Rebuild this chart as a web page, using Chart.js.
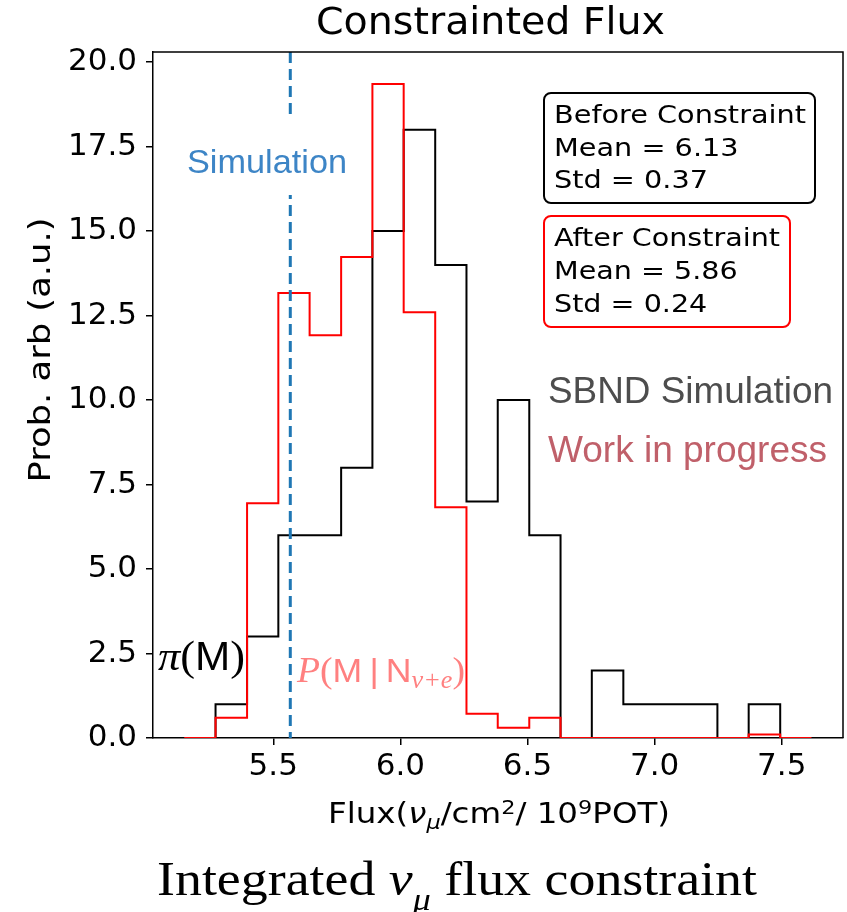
<!DOCTYPE html>
<html>
<head>
<meta charset="UTF-8">
<title>Constrainted Flux</title>
<script src="https://cdn.jsdelivr.net/npm/chart.js@4.4.1/dist/chart.umd.min.js"></script>
<style>
  html, body { margin: 0; padding: 0; background: #fff; }
  #fluxChart { display: block; }
</style>
</head>
<body>
<canvas id="fluxChart" width="847" height="912"></canvas>
<script>
// histogram bin edges, flux in nu_mu / cm2 / 1e9 POT
const binEdges = [5.150, 5.273, 5.397, 5.520, 5.643, 5.767, 5.890, 6.013, 6.137, 6.260,
                  6.383, 6.507, 6.630, 6.753, 6.877, 7.000, 7.123, 7.247, 7.370, 7.494, 7.617];
// prior pi(M), before constraint (black)
const beforeCounts = [0, 1, 3, 6, 6, 8, 15, 18, 14, 7, 10, 6, 0, 2, 1, 1, 1, 0, 1, 0];
// posterior P(M|N), after constraint (red)
const afterCounts = [0, 0.6, 6.95, 13.17, 11.92, 14.23, 19.35, 12.6, 6.83, 0.72, 0.3, 0.6, 0, 0, 0, 0, 0, 0, 0.1, 0];
const simulationFlux = 5.567;
const xTicks = [5.5, 6.0, 6.5, 7.0, 7.5];
const yTicks = [0, 2.5, 5, 7.5, 10, 12.5, 15, 17.5, 20];
const xRange = [5.027, 7.741];
const yRange = [0, 20.3];
const beforeStats = [6.13, 0.37];   // mean, std
const afterStats = [5.86, 0.24];

// outline of a step histogram, the way hist(histtype='step') draws it
function stepPoints(edges, counts) {
  let pts = [{x: edges[0], y: 0}];
  for (let i = 0; i < counts.length; i++) {
    pts.push({x: edges[i], y: counts[i]});
  }
  pts.push({x: edges[edges.length - 1], y: counts[counts.length - 1]});
  pts.push({x: edges[edges.length - 1], y: 0});
  return pts;
}

// text made of pieces (sub/superscripts, mixed fonts); width = wanted width in px
function drawRuns(ctx, x, y, runs, opts) {
  opts = opts || {};
  let w = 0;
  runs.forEach(r => { ctx.font = r.font; r.w = ctx.measureText(r.t).width; w += r.w; });
  let sx = opts.width ? opts.width / w : 1;
  ctx.save();
  ctx.translate(x, y);
  if (opts.rotate) ctx.rotate(opts.rotate);
  ctx.scale(sx, 1);
  let cx = opts.align === 'center' ? -w / 2 : 0;
  ctx.textAlign = 'left';
  ctx.textBaseline = 'alphabetic';
  runs.forEach(r => {
    ctx.font = r.font;
    ctx.fillStyle = r.color || opts.color || '#000';
    ctx.fillText(r.t, cx, r.dy || 0);
    cx += r.w;
  });
  ctx.restore();
}

function statBox(ctx, x, y, w, h, color, lines, baselines, textWidth) {
  ctx.save();
  ctx.fillStyle = '#fff';
  ctx.strokeStyle = color;
  ctx.lineWidth = 2;
  ctx.beginPath();
  ctx.roundRect(x, y, w, h, 7);
  ctx.fill();
  ctx.stroke();
  ctx.restore();
  ctx.font = '25px "DejaVu Sans"';
  let sx = textWidth / ctx.measureText(lines[0]).width;
  lines.forEach((s, i) => {
    ctx.font = '25px "DejaVu Sans"';
    let wi = ctx.measureText(s).width * sx;
    drawRuns(ctx, x + 10, baselines[i], [{t: s, font: '25px "DejaVu Sans"'}], {width: wi});
  });
}

const overlay = {
  id: 'overlay',
  afterDraw(chart) {
    const ctx = chart.ctx;
    const a = chart.chartArea;

    // top and right spines
    ctx.save();
    ctx.strokeStyle = '#000';
    ctx.lineWidth = 1.5;
    ctx.beginPath();
    ctx.moveTo(a.left, a.top);
    ctx.lineTo(a.right, a.top);
    ctx.lineTo(a.right, a.bottom);
    ctx.stroke();
    ctx.restore();

    // title, drawn here so it can sit where the original has it
    drawRuns(ctx, 316, 34, [{t: 'Constrainted Flux', font: '37px "DejaVu Sans"'}], {width: 349, color: '#000'});

    // "Simulation" label sitting on a white box over the dashed line
    ctx.fillStyle = '#fff';
    ctx.fillRect(180, 119, 174, 76);
    drawRuns(ctx, 187, 173, [{t: 'Simulation', font: '34px "Liberation Sans"'}], {width: 160, color: '#3d85c6'});

    statBox(ctx, 544, 93, 271, 110, '#000',
      ['Before Constraint', 'Mean = ' + beforeStats[0].toFixed(2), 'Std = ' + beforeStats[1].toFixed(2)],
      [123, 155.5, 188], 252);
    statBox(ctx, 544, 216, 246, 111, '#ff0000',
      ['After Constraint', 'Mean = ' + afterStats[0].toFixed(2), 'Std = ' + afterStats[1].toFixed(2)],
      [246, 279, 312], 226);

    drawRuns(ctx, 548, 403, [{t: 'SBND Simulation', font: '36px "Liberation Sans"'}], {width: 285, color: '#4d4d4d'});
    drawRuns(ctx, 548, 462, [{t: 'Work in progress', font: '36px "Liberation Sans"'}], {width: 279, color: '#c0606a'});

    // pi(M)
    drawRuns(ctx, 158, 670, [
      {t: 'π', font: 'italic 42px "Liberation Serif"'},
      {t: '(', font: '42px "Liberation Serif"'},
      {t: 'M', font: '40px "Liberation Sans"'},
      {t: ')', font: '42px "Liberation Serif"'}
    ], {width: 87, color: '#000'});

    // P(M|N_{nu+e})
    drawRuns(ctx, 297, 682, [
      {t: 'P', font: 'italic 36px "Liberation Serif"'},
      {t: '(', font: '36px "Liberation Serif"'},
      {t: 'M', font: '34px "Liberation Sans"'},
      {t: '\u2009|\u2009', font: '34px "Liberation Sans"'},
      {t: 'N', font: '34px "Liberation Sans"'},
      {t: 'ν+e', font: 'italic 25px "Liberation Serif"', dy: 6},
      {t: ')', font: '36px "Liberation Serif"'}
    ], {width: 168, color: '#ff8080'});

    // y axis title
    drawRuns(ctx, 50, 350, [{t: 'Prob. arb (a.u.)', font: '31px "DejaVu Sans"'}],
      {align: 'center', rotate: -Math.PI / 2, width: 265, color: '#000'});

    // x axis title
    drawRuns(ctx, 499, 823, [
      {t: 'Flux(', font: '29px "DejaVu Sans"'},
      {t: 'ν', font: 'italic 29px "DejaVu Sans"'},
      {t: 'μ', font: 'italic 20px "DejaVu Sans"', dy: 6},
      {t: '/cm', font: '29px "DejaVu Sans"'},
      {t: '2', font: '20px "DejaVu Sans"', dy: -9},
      {t: '/ 10', font: '29px "DejaVu Sans"'},
      {t: '9', font: '20px "DejaVu Sans"', dy: -9},
      {t: 'POT)', font: '29px "DejaVu Sans"'}
    ], {align: 'center', width: 342, color: '#000'});

    // caption under the figure
    drawRuns(ctx, 157, 895, [
      {t: 'Integrated ', font: '48px "Liberation Serif"'},
      {t: 'ν', font: 'italic 48px "Liberation Serif"'},
      {t: 'μ', font: 'italic 32px "Liberation Serif"', dy: 15},
      {t: ' flux constraint', font: '48px "Liberation Serif"'}
    ], {width: 600, color: '#000'});
  }
};

new Chart(document.getElementById('fluxChart'), {
  type: 'line',
  data: {
    datasets: [
      {
        label: 'Simulation',
        data: [{x: simulationFlux, y: yRange[1]}, {x: simulationFlux, y: yRange[0]}],
        borderColor: '#1f77b4',
        borderWidth: 3,
        borderDash: [11, 6],
        pointRadius: 0
      },
      {
        label: 'After Constraint',
        data: stepPoints(binEdges, afterCounts),
        borderColor: '#ff0000',
        borderWidth: 2,
        stepped: 'before',
        pointRadius: 0,
        fill: false
      },
      {
        label: 'Before Constraint',
        data: stepPoints(binEdges, beforeCounts),
        borderColor: '#000000',
        borderWidth: 2,
        stepped: 'before',
        pointRadius: 0,
        fill: false
      }
    ]
  },
  options: {
    responsive: false,
    animation: false,
    devicePixelRatio: 1,
    events: [],
    layout: { padding: { top: 52, left: 0, right: 4, bottom: 0 } },
    plugins: {
      legend: { display: false },
      tooltip: { enabled: false },
      title: { display: false }
    },
    scales: {
      x: {
        type: 'linear',
        min: xRange[0],
        max: xRange[1],
        afterBuildTicks: s => { s.ticks = xTicks.map(v => ({value: v})); },
        afterFit: s => { s.height = 174; },
        ticks: {
          color: '#000',
          padding: 3,
          font: { family: 'DejaVu Sans', size: 31 },
          callback: v => v.toFixed(1)
        },
        grid: { display: true, drawOnChartArea: false, drawTicks: true, tickLength: 7, color: '#000', lineWidth: 1.5 },
        border: { display: true, color: '#000', width: 1.5 }
      },
      y: {
        type: 'linear',
        min: yRange[0],
        max: yRange[1],
        afterBuildTicks: s => { s.ticks = yTicks.map(v => ({value: v})); },
        afterFit: s => { s.width = 153; },
        ticks: {
          color: '#000',
          padding: 9,
          font: { family: 'DejaVu Sans', size: 31 },
          callback: v => v.toFixed(1)
        },
        grid: { display: true, drawOnChartArea: false, drawTicks: true, tickLength: 7, color: '#000', lineWidth: 1.5 },
        border: { display: true, color: '#000', width: 1.5 }
      }
    }
  },
  plugins: [overlay]
});
</script>
</body>
</html>
